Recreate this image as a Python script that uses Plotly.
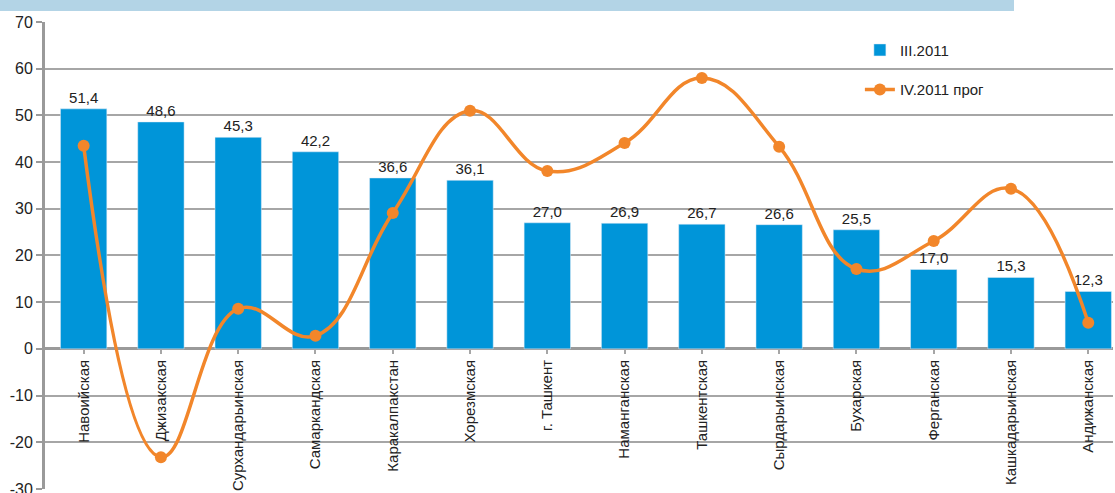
import plotly.graph_objects as go

categories = ["Навоийская", "Джизакская", "Сурхандарьинская", "Самаркандская",
              "Каракалпакстан", "Хорезмская", "г. Ташкент", "Наманганская",
              "Ташкентская", "Сырдарьинская", "Бухарская", "Ферганская",
              "Кашкадарьинская", "Андижанская"]
q3_2011 = [51.4, 48.6, 45.3, 42.2, 36.6, 36.1, 27.0, 26.9, 26.7, 26.6, 25.5, 17.0, 15.3, 12.3]
q4_2011_forecast = [43.5, -23.2, 8.6, 2.8, 29.1, 51.0, 38.1, 44.1, 58.0, 43.3, 17.1, 23.1, 34.3, 5.6]
y_ticks = [70, 60, 50, 40, 30, 20, 10, 0, -10, -20, -30]

FONT = "Liberation Sans Narrow, Arial Narrow, Liberation Sans, Arial"
BLUE = "#0095d9"
ORANGE = "#f2862a"
GRID = "#a6a6a6"

x = list(range(len(categories)))
bar_text = [f"{v:.1f}".replace(".", ",") for v in q3_2011]

fig = go.Figure()
fig.add_trace(go.Bar(
    x=x, y=q3_2011, name="III.2011", marker_color=BLUE, width=0.6,
    text=bar_text, textposition="outside", cliponaxis=False, constraintext="none",
    textfont=dict(family=FONT, size=15, color="#222222"),
    legendgroup="a",
))
fig.add_trace(go.Scatter(
    x=x, y=q4_2011_forecast, name="IV.2011 прог", mode="lines+markers",
    line=dict(color=ORANGE, width=3.5, shape="spline", smoothing=1.2),
    marker=dict(color=ORANGE, size=12),
    legendgroup="b",
))

n = len(categories)
fig.update_layout(
    width=1115, height=493,
    margin=dict(l=45, r=2, t=22, b=4, autoexpand=False),
    paper_bgcolor="white", plot_bgcolor="white",
    font=dict(family=FONT, size=15, color="#222222"),
    showlegend=True,
    legend=dict(x=0.763, y=0.975, xanchor="left", yanchor="top",
                bgcolor="rgba(0,0,0,0)", font=dict(family=FONT, size=15, color="#222222"),
                tracegroupgap=17, traceorder="grouped", itemwidth=30),
    xaxis=dict(
        range=[-0.5, n - 0.68], tickmode="array", tickvals=x, ticktext=categories,
        tickangle=-90, anchor="free", position=0.3, showgrid=False, showline=False,
        ticks="outside", tickson="boundaries", ticklen=4, tickcolor=GRID, tickwidth=1.5,
        tickfont=dict(family=FONT, size=15, color="#222222"), zeroline=False,
        automargin=False,
    ),
    yaxis=dict(
        range=[-30.01, 70], tickmode="array", tickvals=y_ticks,
        ticktext=[str(v) for v in y_ticks], ticklabeloverflow="allow", automargin=False,
        showgrid=True, gridcolor=GRID, gridwidth=1.5,
        showline=True, linecolor="#9a9a9a", linewidth=3, ticks="outside", ticklen=6,
        tickcolor="#9a9a9a", tickwidth=2, zeroline=True, zerolinecolor="#9a9a9a",
        zerolinewidth=3, tickfont=dict(family=FONT, size=16, color="#222222"),
    ),
    shapes=[dict(type="rect", xref="paper", yref="paper", x0=-45/1068, x1=(1014-45)/1068,
                 y0=1 + 11/467, y1=1 + 30/467,
                 fillcolor="#b3d4e6", line=dict(width=0), layer="below")],
)

fig.write_html("out.html", config={"displayModeBar": False},
               post_script="document.body.style.margin='0px';document.body.style.padding='0px';")
